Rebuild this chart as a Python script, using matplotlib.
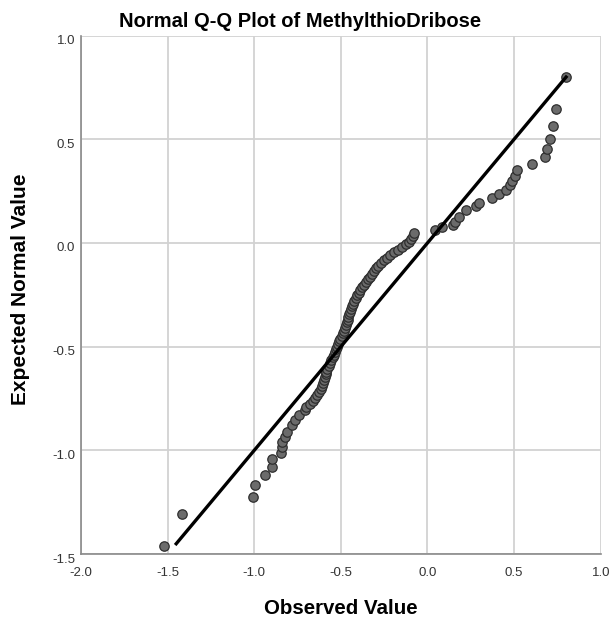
import numpy as np
import matplotlib
matplotlib.use("Agg")
from matplotlib import pyplot as plt
from matplotlib import transforms

low_x = [-1.519, -1.415, -1.009, -0.994, -0.936, -0.900, -0.900, -0.848, -0.842,
         -0.838, -0.823, -0.813, -0.784, -0.765, -0.742, -0.706]
low_y = [-1.460, -1.308, -1.225, -1.166, -1.118, -1.082, -1.043, -1.012, -0.983,
         -0.959, -0.934, -0.910, -0.878, -0.854, -0.827, -0.806]

mid_x = [-0.700, -0.680, -0.662, -0.648, -0.636, -0.626, -0.617, -0.610, -0.604,
         -0.598, -0.592, -0.588, -0.583, -0.577, -0.570, -0.562, -0.554, -0.546,
         -0.540, -0.533, -0.527, -0.520, -0.514, -0.508, -0.502, -0.494, -0.486,
         -0.479, -0.474, -0.469, -0.465, -0.461, -0.457, -0.453, -0.448, -0.443,
         -0.437, -0.430, -0.422, -0.414, -0.405, -0.396, -0.388, -0.378, -0.368,
         -0.355, -0.342, -0.330, -0.318, -0.308, -0.297, -0.286, -0.270, -0.252,
         -0.233, -0.215, -0.195, -0.170, -0.145, -0.125, -0.108, -0.096, -0.086,
         -0.076]
mid_y = [-0.790, -0.775, -0.760, -0.746, -0.732, -0.718, -0.704, -0.690, -0.676,
         -0.662, -0.648, -0.634, -0.620, -0.606, -0.592, -0.578, -0.565, -0.552,
         -0.539, -0.526, -0.513, -0.500, -0.487, -0.474, -0.461, -0.448, -0.435,
         -0.422, -0.409, -0.396, -0.383, -0.370, -0.357, -0.344, -0.331, -0.318,
         -0.305, -0.292, -0.279, -0.266, -0.253, -0.240, -0.227, -0.214, -0.201,
         -0.188, -0.175, -0.162, -0.149, -0.136, -0.123, -0.110, -0.097, -0.084,
         -0.071, -0.058, -0.045, -0.032, -0.019, -0.006, 0.007, 0.020, 0.035,
         0.049]

high_x = [0.043, 0.081, 0.145, 0.158, 0.183, 0.222, 0.279, 0.298, 0.373, 0.414,
          0.456, 0.475, 0.485, 0.504, 0.519, 0.606, 0.678, 0.687, 0.708, 0.727,
          0.742, 0.799]
high_y = [0.062, 0.078, 0.086, 0.102, 0.126, 0.158, 0.179, 0.195, 0.217, 0.234,
          0.254, 0.279, 0.299, 0.323, 0.351, 0.380, 0.415, 0.455, 0.500, 0.563,
          0.645, 0.798]

line_x = [-1.45, 0.80]
line_y = [-1.45, 0.80]

x_ticks = [-2.0, -1.5, -1.0, -0.5, 0.0, 0.5, 1.0]
y_ticks = [-1.5, -1.0, -0.5, 0.0, 0.5, 1.0]

plt.rcParams['font.family'] = ['Liberation Sans', 'DejaVu Sans']

fig = plt.figure(figsize=(6.13, 6.24), dpi=100)
ax = fig.add_axes([0.132, 0.112, 0.848, 0.831])

obs = np.array(low_x + mid_x + high_x)
exp = np.array(low_y + mid_y + high_y)

ax.grid(True, color="#d2d2d2", linewidth=1.3, zorder=0)
ax.scatter(obs, exp, s=46, facecolor="#6b6b6b", edgecolor="#2e2e2e",
           linewidth=0.9, zorder=3)
ax.plot(line_x, line_y, color="black", linewidth=2.4, zorder=4)

ax.set_xlim(-2.0, 1.0)
ax.set_ylim(-1.5, 1.0)
ax.set_xticks(x_ticks)
ax.set_yticks(y_ticks)
ax.set_xticklabels(["%.1f" % v for v in x_ticks])
ax.set_yticklabels(["%.1f" % v for v in y_ticks])
ax.tick_params(labelsize=9.5, colors="#333333", length=0)
ax.tick_params(axis="x", pad=9)
ax.tick_params(axis="y", pad=4)

# SPSS puts the y labels a bit below their grid line
shift = transforms.ScaledTranslation(0, -4 / 100, fig.dpi_scale_trans)
for lab in ax.get_yticklabels():
    lab.set_transform(lab.get_transform() + shift)

for side in ["top", "right"]:
    ax.spines[side].set_visible(False)
for side in ["left", "bottom"]:
    ax.spines[side].set_color("#8a8a8a")
    ax.spines[side].set_linewidth(1.2)

fig.text(300 / 613, 1 - 21.5 / 624, "Normal Q-Q Plot of MethylthioDribose",
         fontsize=14.5, fontweight="bold", ha="center", va="center")
ax.set_xlabel("Observed Value", fontsize=14.8, fontweight="bold")
ax.set_ylabel("Expected Normal Value", fontsize=15, fontweight="bold")
ax.xaxis.set_label_coords(0.5, -0.087)
ax.yaxis.set_label_coords(-0.097, 0.51)

fig.savefig("out.png", dpi=100)
